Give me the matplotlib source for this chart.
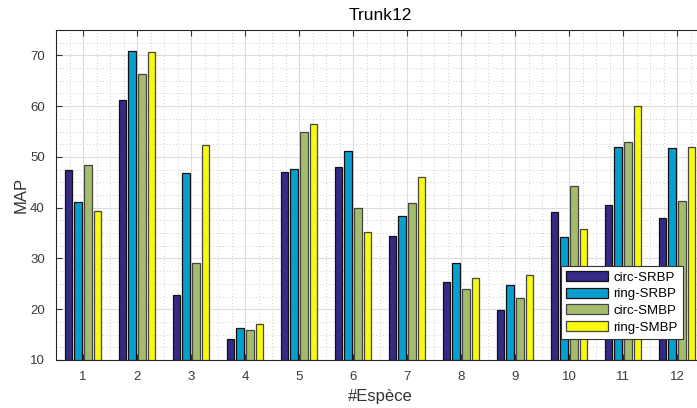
import numpy as np
import matplotlib.pyplot as plt
from matplotlib.ticker import MultipleLocator

plt.rcParams['font.family'] = ['Liberation Sans', 'DejaVu Sans']

# data
especes = [1, 2, 3, 4, 5, 6, 7, 8, 9, 10, 11, 12]
circ_srbp = [47.4, 61.2, 22.9, 14.1, 47.0, 48.0, 34.4, 25.3, 19.8, 39.1, 40.5, 38.0]
ring_srbp = [41.1, 70.8, 46.8, 16.4, 47.7, 51.1, 38.4, 29.2, 24.8, 34.3, 51.9, 51.8]
circ_smbp = [48.4, 66.3, 29.2, 16.0, 55.0, 39.9, 41.0, 24.0, 22.3, 44.3, 53.0, 41.4]
ring_smbp = [39.4, 70.7, 52.3, 17.0, 56.5, 35.3, 46.0, 26.1, 26.8, 35.8, 60.1, 51.9]

series = [circ_srbp, ring_srbp, circ_smbp, ring_smbp]
labels = ['circ-SRBP', 'ring-SRBP', 'circ-SMBP', 'ring-SMBP']
colors = ['#352A87', '#0A9ECF', '#A5BD6A', '#F8FA0D']
edges = ['#111111', '#111111', '#444444', '#444444']

fig = plt.figure(figsize=(6.97, 4.08), dpi=100)
# axes runs a bit past the right edge of the figure, like the reference
ax = fig.add_axes([56/697, 48/408, 648/697, 330/408])

x = np.array(especes)
step = 0.18
width = 0.145
for i, vals in enumerate(series):
    ax.bar(x + (i - 1.5)*step, np.array(vals) - 10, width, bottom=10,
           color=colors[i], edgecolor=edges[i], linewidth=0.9, label=labels[i], zorder=3)

ax.set_xlim(0.5, 12.5)
ax.set_ylim(10, 75)
ax.set_xticks(especes)
ax.set_yticks([10, 20, 30, 40, 50, 60, 70])
ax.xaxis.set_minor_locator(MultipleLocator(0.25))
ax.yaxis.set_minor_locator(MultipleLocator(2.5))
ax.grid(which='major', color='#dcdcdc', linewidth=0.8, zorder=0)
ax.grid(which='minor', color='#bdbdbd', linestyle=(0, (1, 3)), linewidth=0.6, zorder=0)
ax.set_axisbelow(True)
ax.tick_params(which='major', direction='in', length=4, top=True, right=True,
               labelsize=9.5, labelcolor='#3a3a3a', color='#333333', pad=8)
ax.tick_params(which='minor', length=0)
for s in ax.spines.values():
    s.set_color('#262626')
    s.set_linewidth(0.8)

ax.set_title('Trunk12', fontsize=12.5, pad=7)
ax.set_xlabel('#Espèce', fontsize=12, color='#333333', labelpad=4)
ax.set_ylabel('MAP', fontsize=12, color='#333333', labelpad=1)

leg = ax.legend(loc='lower right', bbox_to_anchor=(0.968, 0.064), borderaxespad=0,
                fontsize=9.5, fancybox=False, framealpha=1, edgecolor='#333333',
                handlelength=3.2, handleheight=0.8, labelspacing=0.3, handletextpad=0.4,
                borderpad=0.4)
leg.get_frame().set_linewidth(0.8)

fig.savefig('out.png', dpi=100)
